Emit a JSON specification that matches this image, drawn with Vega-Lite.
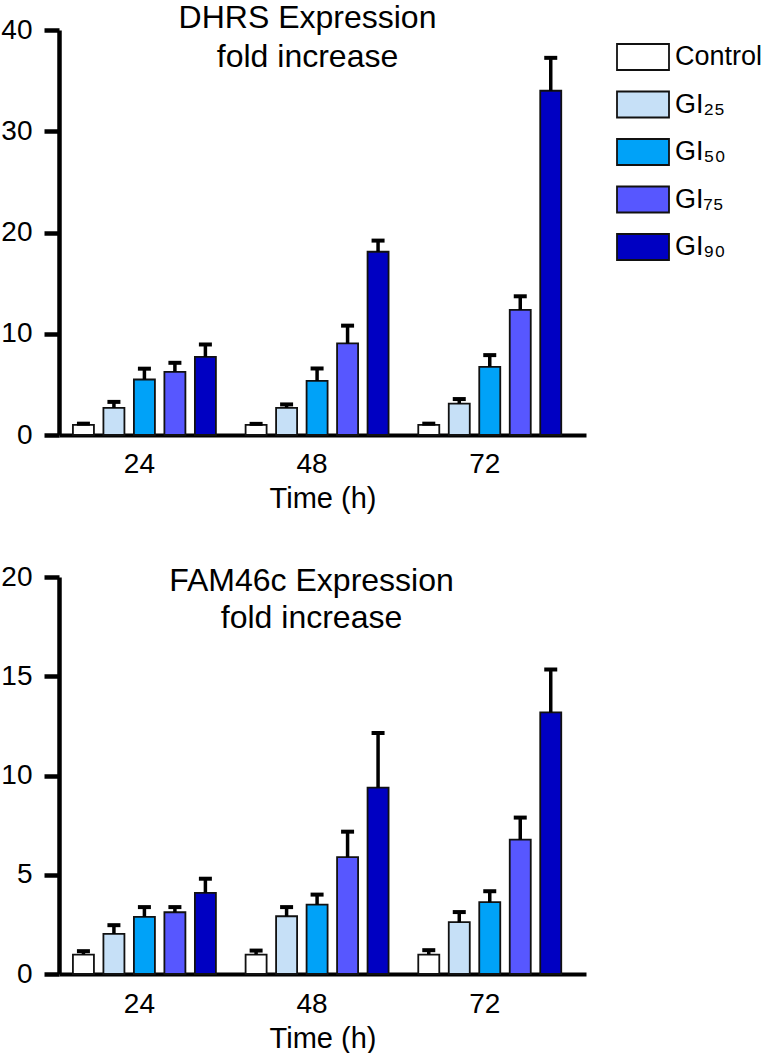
{
  "$schema": "https://vega.github.io/schema/vega-lite/v6.json",
  "padding": {"left": 0, "top": 2, "right": 0, "bottom": 0},
  "config": {
    "font": "Liberation Sans",
    "view": {"stroke": null},
    "axis": {"grid": false, "domainColor": "#000", "labelColor": "#000", "titleColor": "#000"}
  },
  "data": {
    "values": [
      {"panel": "DHRS", "time": "24", "group": "Control", "mean": 1.0, "upper": 1.12},
      {"panel": "DHRS", "time": "24", "group": "GI₂₅", "mean": 2.67, "upper": 3.27},
      {"panel": "DHRS", "time": "24", "group": "GI₅₀", "mean": 5.48, "upper": 6.55},
      {"panel": "DHRS", "time": "24", "group": "GI₇₅", "mean": 6.24, "upper": 7.13},
      {"panel": "DHRS", "time": "24", "group": "GI₉₀", "mean": 7.72, "upper": 8.94},
      {"panel": "DHRS", "time": "48", "group": "Control", "mean": 1.0, "upper": 1.1},
      {"panel": "DHRS", "time": "48", "group": "GI₂₅", "mean": 2.67, "upper": 3.02},
      {"panel": "DHRS", "time": "48", "group": "GI₅₀", "mean": 5.35, "upper": 6.57},
      {"panel": "DHRS", "time": "48", "group": "GI₇₅", "mean": 9.04, "upper": 10.8},
      {"panel": "DHRS", "time": "48", "group": "GI₉₀", "mean": 18.1, "upper": 19.2},
      {"panel": "DHRS", "time": "72", "group": "Control", "mean": 1.0, "upper": 1.12},
      {"panel": "DHRS", "time": "72", "group": "GI₂₅", "mean": 3.1, "upper": 3.55},
      {"panel": "DHRS", "time": "72", "group": "GI₅₀", "mean": 6.73, "upper": 7.89},
      {"panel": "DHRS", "time": "72", "group": "GI₇₅", "mean": 12.35, "upper": 13.7},
      {"panel": "DHRS", "time": "72", "group": "GI₉₀", "mean": 34.0, "upper": 37.25},
      {"panel": "FAM46c", "time": "24", "group": "Control", "mean": 0.98, "upper": 1.15},
      {"panel": "FAM46c", "time": "24", "group": "GI₂₅", "mean": 2.02, "upper": 2.46},
      {"panel": "FAM46c", "time": "24", "group": "GI₅₀", "mean": 2.88, "upper": 3.37},
      {"panel": "FAM46c", "time": "24", "group": "GI₇₅", "mean": 3.11, "upper": 3.37},
      {"panel": "FAM46c", "time": "24", "group": "GI₉₀", "mean": 4.09, "upper": 4.8},
      {"panel": "FAM46c", "time": "48", "group": "Control", "mean": 0.98, "upper": 1.18},
      {"panel": "FAM46c", "time": "48", "group": "GI₂₅", "mean": 2.91, "upper": 3.37},
      {"panel": "FAM46c", "time": "48", "group": "GI₅₀", "mean": 3.5, "upper": 4.0},
      {"panel": "FAM46c", "time": "48", "group": "GI₇₅", "mean": 5.89, "upper": 7.17},
      {"panel": "FAM46c", "time": "48", "group": "GI₉₀", "mean": 9.39, "upper": 12.14},
      {"panel": "FAM46c", "time": "72", "group": "Control", "mean": 0.98, "upper": 1.2},
      {"panel": "FAM46c", "time": "72", "group": "GI₂₅", "mean": 2.61, "upper": 3.12},
      {"panel": "FAM46c", "time": "72", "group": "GI₅₀", "mean": 3.62, "upper": 4.17},
      {"panel": "FAM46c", "time": "72", "group": "GI₇₅", "mean": 6.77, "upper": 7.88},
      {"panel": "FAM46c", "time": "72", "group": "GI₉₀", "mean": 13.18, "upper": 15.34}
    ]
  },
  "spacing": 50,
  "resolve": {"scale": {"color": "shared", "y": "independent"}, "legend": {"color": "independent"}},
  "vconcat": [
    {
      "width": 527,
      "height": 405,
      "transform": [{"filter": "datum.panel === 'DHRS'"}],
      "title": {"text": ["DHRS Expression", "fold increase"], "fontSize": 32, "fontWeight": "normal", "lineHeight": 39, "offset": -58, "dx": -15, "frame": "group", "anchor": "middle", "color": "#000"},
      "encoding": {
        "x": {"field": "time", "type": "nominal", "sort": ["24", "48", "72"],
          "scale": {"paddingInner": 0.172, "paddingOuter": 0.112, "align": 0.36},
          "axis": {"title": "Time (h)", "labelAngle": 0, "ticks": false, "domainWidth": 4, "labelFontSize": 28, "titleFontSize": 29, "titleFontWeight": "normal", "labelPadding": 15, "titlePadding": 6, "labelOffset": -5}},
        "xOffset": {"field": "group", "type": "nominal", "sort": ["Control", "GI₂₅", "GI₅₀", "GI₇₅", "GI₉₀"], "scale": {"paddingInner": 0.311, "paddingOuter": 0}}
      },
      "layer": [
        {
          "mark": {"type": "bar", "stroke": "#111", "strokeWidth": 1.8},
          "encoding": {
            "y": {"field": "mean", "type": "quantitative",
              "scale": {"domain": [0, 40], "nice": false},
              "axis": {"title": null, "values": [0, 10, 20, 30, 40], "tickColor": "#000000", "tickWidth": 4.5, "tickSize": 15, "domainWidth": 4.5, "labelFontSize": 28, "labelPadding": 12}},
            "color": {"field": "group", "type": "nominal",
              "scale": {"domain": ["Control", "GI₂₅", "GI₅₀", "GI₇₅", "GI₉₀"], "range": ["#FFFFFF", "#C6E0F7", "#00A2F8", "#5757FF", "#0000C2"]},
              "legend": {"title": null, "orient": "right", "offset": 30, "padding": 0, "symbolType": "M-1,-0.5H1V0.5H-1Z", "symbolSize": 2704, "symbolStrokeColor": "#111", "symbolStrokeWidth": 1.8, "labelFontSize": 27, "labelColor": "#000", "labelOffset": 5, "rowPadding": 3.5}}
          }
        },
        {
          "mark": {"type": "rule", "color": "#000", "strokeWidth": 3.5},
          "encoding": {
            "y": {"field": "mean", "type": "quantitative"},
            "y2": {"field": "upper"}
          }
        },
        {
          "mark": {"type": "tick", "color": "#000", "size": 13, "thickness": 4, "orient": "horizontal", "opacity": 1},
          "encoding": {
            "y": {"field": "upper", "type": "quantitative"}
          }
        }
      ]
    },
    {
      "width": 527,
      "height": 397,
      "transform": [{"filter": "datum.panel === 'FAM46c'"}],
      "title": {"text": ["FAM46c Expression", "fold increase"], "fontSize": 32, "fontWeight": "normal", "lineHeight": 37, "offset": -72, "dx": -11, "frame": "group", "anchor": "middle", "color": "#000"},
      "encoding": {
        "x": {"field": "time", "type": "nominal", "sort": ["24", "48", "72"],
          "scale": {"paddingInner": 0.172, "paddingOuter": 0.112, "align": 0.36},
          "axis": {"title": "Time (h)", "labelAngle": 0, "ticks": false, "domainWidth": 4, "labelFontSize": 28, "titleFontSize": 29, "titleFontWeight": "normal", "labelPadding": 16, "titlePadding": 6, "labelOffset": -5}},
        "xOffset": {"field": "group", "type": "nominal", "sort": ["Control", "GI₂₅", "GI₅₀", "GI₇₅", "GI₉₀"], "scale": {"paddingInner": 0.311, "paddingOuter": 0}}
      },
      "layer": [
        {
          "mark": {"type": "bar", "stroke": "#111", "strokeWidth": 1.8},
          "encoding": {
            "y": {"field": "mean", "type": "quantitative",
              "scale": {"domain": [0, 20], "nice": false},
              "axis": {"title": null, "values": [0, 5, 10, 15, 20], "tickColor": "#000000", "tickWidth": 4.5, "tickSize": 15, "domainWidth": 4.5, "labelFontSize": 28, "labelPadding": 12}},
            "color": {"field": "group", "type": "nominal", "legend": null}
          }
        },
        {
          "mark": {"type": "rule", "color": "#000", "strokeWidth": 3.5},
          "encoding": {
            "y": {"field": "mean", "type": "quantitative"},
            "y2": {"field": "upper"}
          }
        },
        {
          "mark": {"type": "tick", "color": "#000", "size": 13, "thickness": 4, "orient": "horizontal", "opacity": 1},
          "encoding": {
            "y": {"field": "upper", "type": "quantitative"}
          }
        }
      ]
    }
  ]
}
